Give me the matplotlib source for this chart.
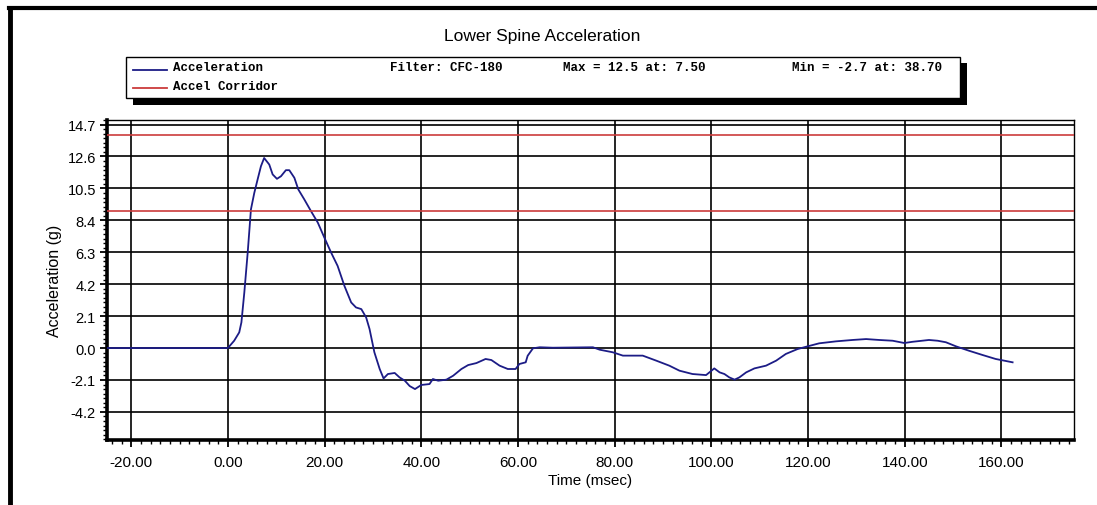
import matplotlib
matplotlib.use("Agg")
import matplotlib.pyplot as plt
from matplotlib.lines import Line2D
from matplotlib.patches import Rectangle
from matplotlib.ticker import FixedLocator, MultipleLocator

# time (msec) and lower spine acceleration (g)
time_ms = [-25, 0, 1.3, 2.35, 2.8, 3.4, 4.1, 4.77, 5.46, 6.15, 6.84, 7.5, 8.56, 9.26,
           10.15, 10.98, 12.0, 12.7, 13.75, 14.57, 15.8, 17.2, 18.6, 19.96, 21.35, 22.7,
           24.1, 25.5, 26.5, 27.6, 28.6, 29.3, 30.3, 31.4, 32.2, 33.1, 34.5, 35.5, 36.6,
           37.6, 38.7, 40.0, 41.7, 42.4, 43.5, 45.2, 46.6, 48.3, 49.7, 51.4, 53.3, 54.5,
           56.2, 57.9, 59.5, 60.3, 61.6, 62.0, 63.1, 64.5, 67.2, 75.5, 76.9, 79.6, 81.7,
           85.8, 88.6, 91.3, 93.4, 96.1, 98.9, 99.6, 100.6, 101.7, 102.7, 103.7, 104.8,
           105.8, 107.2, 108.9, 111.3, 113.4, 115.4, 117.8, 119.9, 122.3, 125.8, 129.2,
           132.0, 134.7, 137.5, 139.9, 141.6, 145.0, 146.8, 148.5, 150.6, 153.3, 156.1,
           158.8, 162.3]
accel_g = [0, 0, 0.48, 1.03, 1.69, 3.65, 6.28, 9.12, 10.2, 11.09, 11.96, 12.5, 12.07, 11.42,
           11.13, 11.3, 11.7, 11.7, 11.2, 10.43, 9.78, 9.0, 8.25, 7.26, 6.28, 5.4,
           4.09, 3.0, 2.67, 2.56, 2.01, 1.25, -0.28, -1.38, -2.0, -1.71, -1.64, -1.93, -2.15,
           -2.5, -2.7, -2.43, -2.37, -2.04, -2.15, -2.08, -1.82, -1.38, -1.12, -0.99, -0.72, -0.79,
           -1.16, -1.38, -1.38, -1.05, -0.94, -0.51, -0.02, 0.05, 0.02, 0.05, -0.11, -0.28, -0.5,
           -0.5, -0.83, -1.16, -1.49, -1.71, -1.78, -1.6, -1.34, -1.6, -1.71, -1.93, -2.08,
           -1.93, -1.6, -1.34, -1.16, -0.83, -0.39, -0.07, 0.11, 0.31, 0.44, 0.53,
           0.59, 0.53, 0.48, 0.33, 0.41, 0.53, 0.48, 0.38, 0.11, -0.18, -0.46,
           -0.72, -0.94]
corridor_g = [9.0, 14.0]

x_ticks = [-20, 0, 20, 40, 60, 80, 100, 120, 140, 160]
y_ticks = [-4.2, -2.1, 0.0, 2.1, 4.2, 6.3, 8.4, 10.5, 12.6, 14.7]

legend_names = ["Acceleration", "Accel Corridor"]
filter_text = "Filter: CFC-180"
max_text = "Max = 12.5 at: 7.50"
min_text = "Min = -2.7 at: 38.70"

W, H = 1097, 506
blue = "#1c1c86"
red = "#cc3c3c"

plt.rcParams["font.family"] = ["Liberation Sans", "DejaVu Sans"]

fig = plt.figure(figsize=(W / 100, H / 100), dpi=100)
fig.patch.set_facecolor("white")


def fx(px):
    return px / W


def fy(py):
    return 1 - py / H


ax = fig.add_axes([fx(107), fy(441), fx(1074) - fx(107), fy(121) - fy(441)])

ax.plot(time_ms, accel_g, color=blue, lw=1.3, zorder=3)
for c in corridor_g:
    ax.axhline(c, color=red, lw=1.2, zorder=3)

ax.set_xlim(-25, 175)
ax.set_ylim(-6.05, 15.0)
ax.xaxis.set_major_locator(FixedLocator(x_ticks))
ax.yaxis.set_major_locator(FixedLocator(y_ticks))
ax.set_xticklabels([f"{t:.2f}" for t in x_ticks], fontsize=11)
ax.set_yticklabels([f"{v:.1f}" for v in y_ticks], fontsize=10.5)
ax.xaxis.set_minor_locator(MultipleLocator(2))
ax.yaxis.set_minor_locator(MultipleLocator(0.3))
ax.tick_params(which="major", length=5, width=1.3, color="black", pad=3)
ax.tick_params(axis="x", which="major", pad=6)
ax.tick_params(which="minor", length=3, width=1.0, color="black")
ax.grid(True, which="major", color="black", lw=1.2, zorder=1)
ax.set_axisbelow(True)

for side in ["left", "bottom"]:
    ax.spines[side].set_linewidth(2.6)
for side in ["top", "right"]:
    ax.spines[side].set_linewidth(1.0)

ax.set_xlabel("Time (msec)", fontsize=11, labelpad=3)
ax.set_ylabel("Acceleration (g)", fontsize=11.5, labelpad=4)

fig.text(fx(542), fy(37), "Lower Spine Acceleration", fontsize=12.5, ha="center", va="center")

# outer frame (left and top edges only are inside the picture)
fig.add_artist(Line2D([fx(10), fx(10)], [fy(9), 0], color="black", lw=3.5))
fig.add_artist(Line2D([fx(9), 1], [fy(9), fy(9)], color="black", lw=3.0))

# legend box with drop shadow
fig.add_artist(Rectangle((fx(133), fy(106)), fx(967) - fx(133), fy(64) - fy(106),
                         facecolor="black", edgecolor="none"))
fig.add_artist(Rectangle((fx(126), fy(99)), fx(960) - fx(126), fy(58) - fy(99),
                         facecolor="white", edgecolor="black", lw=1.0))

mono = dict(family=["Liberation Mono", "DejaVu Sans Mono"], fontsize=9,
            weight="bold", va="center", ha="left")
fig.add_artist(Line2D([fx(133), fx(167)], [fy(71), fy(71)], color=blue, lw=1.3))
fig.add_artist(Line2D([fx(133), fx(167)], [fy(89), fy(89)], color=red, lw=1.3))
fig.text(fx(173), fy(68), legend_names[0], **mono)
fig.text(fx(173), fy(87), legend_names[1], **mono)
fig.text(fx(390), fy(68), filter_text, **mono)
fig.text(fx(563), fy(68), max_text, **mono)
fig.text(fx(792), fy(68), min_text, **mono)

fig.savefig("out.png", dpi=100)
